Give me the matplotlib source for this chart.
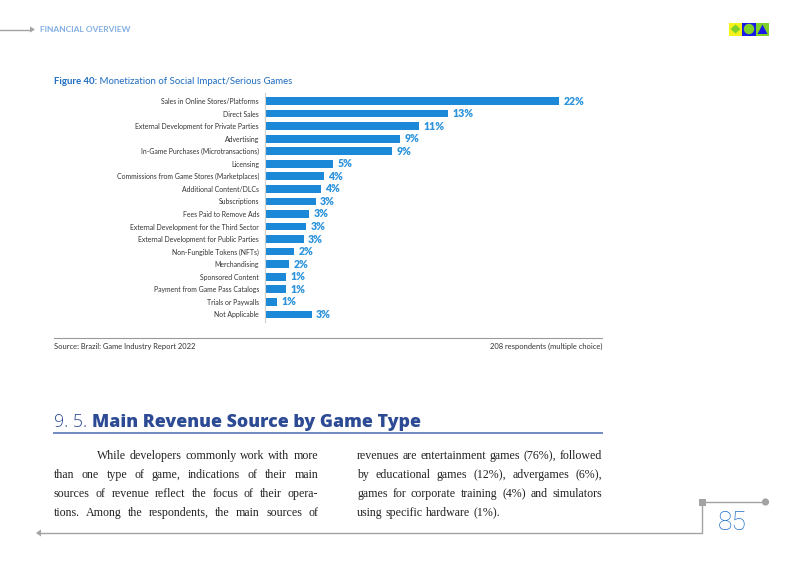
import matplotlib
matplotlib.use('Agg')
import matplotlib.pyplot as plt
from matplotlib.font_manager import FontProperties
from matplotlib.patches import Rectangle, Circle, Polygon

# ---------------- data ----------------
categories = [
    "Sales in Online Stores/Platforms",
    "Direct Sales",
    "External Development for Private Parties",
    "Advertising",
    "In-Game Purchases (Microtransactions)",
    "Licensing",
    "Commissions from Game Stores (Marketplaces)",
    "Additional Content/DLCs",
    "Subscriptions",
    "Fees Paid to Remove Ads",
    "External Development for the Third Sector",
    "External Development for Public Parties",
    "Non-Fungible Tokens (NFTs)",
    "Merchandising",
    "Sponsored Content",
    "Payment from Game Pass Catalogs",
    "Trials or Paywalls",
    "Not Applicable",
]
values = [22.0, 13.7, 11.5, 10.1, 9.5, 5.1, 4.4, 4.2, 3.8, 3.3, 3.1, 2.9,
          2.2, 1.8, 1.6, 1.6, 0.9, 3.5]
value_labels = ["22%", "13%", "11%", "9%", "9%", "5%", "4%", "4%", "3%", "3%",
                "3%", "3%", "2%", "2%", "1%", "1%", "1%", "3%"]

col1_lines = [
    "While developers commonly work with more",
    "than one type of game, indications of their main",
    "sources of revenue reflect the focus of their opera-",
    "tions. Among the respondents, the main sources of",
]
col2_lines = [
    "revenues are entertainment games (76%), followed",
    "by educational games (12%), advergames (6%),",
    "games for corporate training (4%) and simulators",
    "using specific hardware (1%).",
]

# ---------------- figure ----------------
W, H = 800, 565
fig = plt.figure(figsize=(8, 5.65), dpi=100)
fig.patch.set_facecolor('white')
renderer = fig.canvas.get_renderer()

ov = fig.add_axes([0, 0, 1, 1])
ov.set_xlim(0, W)
ov.set_ylim(H, 0)
ov.axis('off')


def measure(s, fp):
    w, h, d = renderer.get_text_width_height_descent(s, fp, ismath=False)
    return w


def fit(s, family, weight, target, style='normal'):
    fp = FontProperties(family=family, weight=weight, size=10, style=style)
    return 10 * target / measure(s, fp)


GRAY = '#a3a3a3'
BLUE_T = '#1f6cc0'

# header
ov.plot([0, 31], [29.5, 29.5], color=GRAY, lw=1.0)
ov.add_patch(Polygon([[30, 26.5], [35, 29.5], [30, 32.5]], closed=True, color=GRAY, lw=0))
fs = fit("FINANCIAL OVERVIEW", 'Lato', 'bold', 91)
ov.text(40, 29.5, "FINANCIAL OVERVIEW", fontsize=fs, family='Lato', weight='bold',
        color='#82aee3', va='center', ha='left')

# icons top right
ov.add_patch(Rectangle((729, 22.5), 13, 13, color='#f5f21a', lw=0))
ov.add_patch(Polygon([[735.5, 24.5], [740.5, 29], [735.5, 33.5], [730.5, 29]], closed=True,
                     color='#7fd12a', lw=0))
ov.add_patch(Rectangle((742, 22.5), 14, 13, color='#1a1ae6', lw=0))
ov.add_patch(Circle((749, 29), 5.2, color='#7fd12a', lw=0))
ov.add_patch(Rectangle((756, 22.5), 13, 13, color='#7fd12a', lw=0))
ov.add_patch(Polygon([[757.5, 34], [762.5, 24.5], [767.5, 34]], closed=True, color='#1a1ae6', lw=0))

# figure title
t1 = "Figure 40:"
t2 = " Monetization of Social Impact/Serious Games"
fs_t = fit(t1 + t2, 'Lato', 'normal', 238)
fp_b = FontProperties(family='Lato', weight='bold', size=fs_t)
ov.text(54, 83.5, t1, fontproperties=fp_b, color=BLUE_T, va='baseline', ha='left')
ov.text(54 + measure(t1, fp_b), 83.5, t2, fontsize=fs_t, family='Lato', color=BLUE_T,
        va='baseline', ha='left')

# ---------------- bar chart ----------------
px_per_unit = 13.38
ax = fig.add_axes([265 / W, 1 - 322 / H, (600 - 265) / W, (322 - 93) / H])
ax.patch.set_alpha(0)
pos = list(range(len(categories)))
ax.barh(pos, values, height=0.61, color='#1c88d8')
ax.set_xlim(0, (600 - 265) / px_per_unit)
ax.set_ylim(17.61, -0.64)
for s in ['top', 'right', 'bottom']:
    ax.spines[s].set_visible(False)
ax.spines['left'].set_color('#d0d0d0')
ax.spines['left'].set_linewidth(0.8)
ax.set_xticks([])
fs_c = fit("Sales in Online Stores/Platforms", 'Lato', 'normal', 97)
ax.set_yticks(pos, categories, fontsize=fs_c, family='Lato', color='#333333')
ax.tick_params(axis='y', length=0, pad=4.3)
fs_v = fit("22%", 'Lato', 'heavy', 21)
for i, (v, lab) in enumerate(zip(values, value_labels)):
    ax.annotate(lab, (v, i), xytext=(3, 0), textcoords='offset points', va='center',
                ha='left', fontsize=fs_v, family='Lato', weight='heavy', color='#2c93dc')

# separator + source
ov.plot([54, 602], [338, 338], color='#9a9a9a', lw=0.8)
fs_s = fit("Source: Brazil: Game Industry Report 2022", 'Lato', 'normal', 142)
ov.text(54, 346, "Source: Brazil: Game Industry Report 2022", fontsize=fs_s, family='Lato',
        color='#333333', va='center', ha='left')
ov.text(602, 346, "208 respondents (multiple choice)", fontsize=fs_s, family='Lato',
        color='#333333', va='center', ha='right')

# section heading
h1 = "9. 5. "
h2 = "Main Revenue Source by Game Type"
HCOL = '#2d4b94'
fp_h2_10 = FontProperties(family='Open Sans', weight='heavy', size=10)
fp_h1_10 = FontProperties(family='Open Sans', weight='light', size=10)
wtot = measure(h1, fp_h1_10) + measure(h2, fp_h2_10)
fs_h = 10 * 367 / wtot
fp_h1 = FontProperties(family='Open Sans', weight='light', size=fs_h)
fp_h2 = FontProperties(family='Open Sans', weight='heavy', size=fs_h)
ov.text(54, 427, h1, fontproperties=fp_h1, color=HCOL, va='baseline', ha='left')
ov.text(54 + measure(h1, fp_h1), 427, h2, fontproperties=fp_h2, color=HCOL,
        va='baseline', ha='left')
ov.plot([54, 602], [432.5, 432.5], color='#7387c2', lw=1.4)

# body text (justified)
BODY_FAM = 'Liberation Serif'
fs_b = fit("revenues are entertainment games (76%), followed", BODY_FAM, 'normal', 243)
fp_body = FontProperties(family=BODY_FAM, size=fs_b)
space_w = measure("a a", fp_body) - measure("aa", fp_body)


def draw_line(line, x0, x1, y, justify=True):
    words = line.split()
    widths = [measure(w, fp_body) for w in words]
    if justify and len(words) > 1:
        gap = (x1 - x0 - sum(widths)) / (len(words) - 1)
    else:
        gap = space_w
    x = x0
    for w, wd in zip(words, widths):
        ov.text(x, y, w, fontproperties=fp_body, color='#222222', va='baseline', ha='left')
        x += wd + gap


baselines = [459, 478, 497, 516]
for k, line in enumerate(col1_lines):
    x0 = 97 if k == 0 else 54
    draw_line(line, x0, 318, baselines[k])
for k, line in enumerate(col2_lines):
    draw_line(line, 357, 602, baselines[k], justify=(k < len(col2_lines) - 1))

# footer
ov.plot([702, 765], [502, 502], color=GRAY, lw=1.0)
ov.add_patch(Rectangle((698.5, 498.5), 7, 7, color=GRAY, lw=0))
ov.add_patch(Circle((765.5, 502), 3.6, color=GRAY, lw=0))
ov.plot([702, 702, 40], [502, 533, 533], color=GRAY, lw=1.0)
ov.add_patch(Polygon([[36, 533], [41, 529.5], [41, 536.5]], closed=True, color=GRAY, lw=0))
ov.text(732.5, 523, "85", fontsize=19, family='Roboto', weight='light', color='#1f70c8',
        va='center', ha='center')

fig.savefig('out.png', dpi=100, facecolor='white')
